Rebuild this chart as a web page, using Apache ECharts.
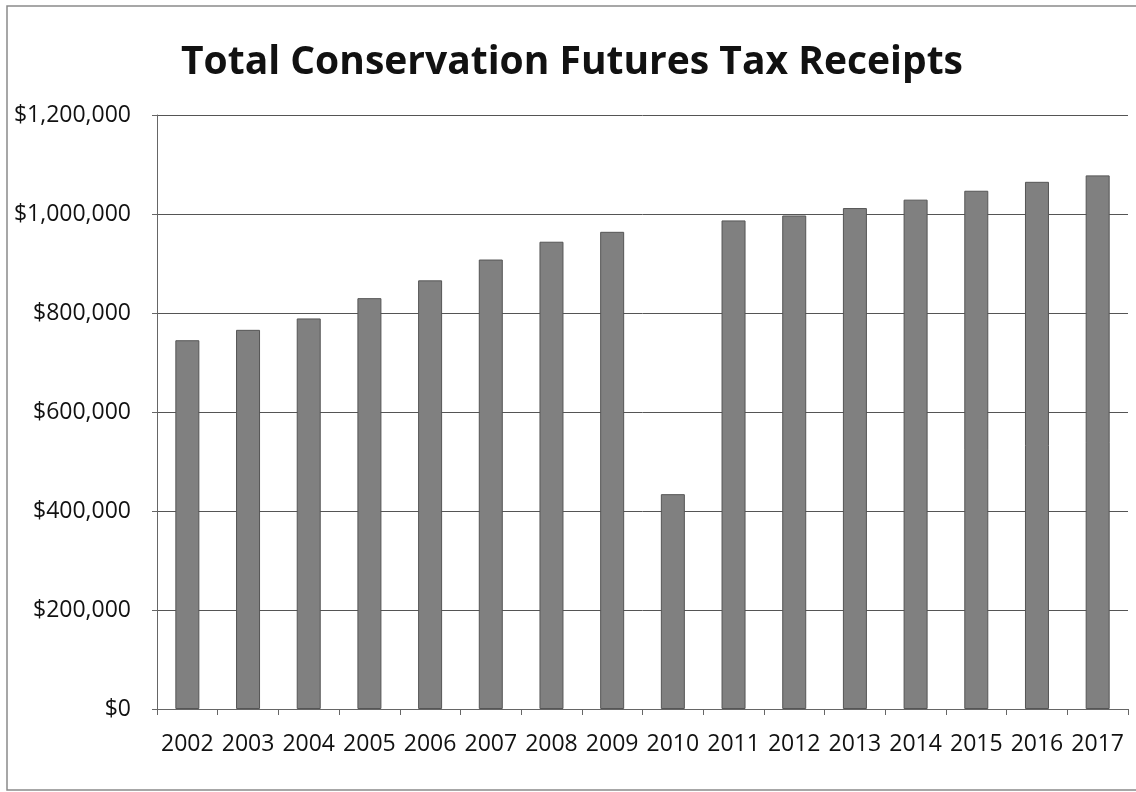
<!doctype html>
<html>
<head>
<meta charset="utf-8">
<title>Total Conservation Futures Tax Receipts</title>
<script src="https://cdn.jsdelivr.net/npm/echarts@6/dist/echarts.min.js"></script>
</head>
<body style="margin:0;background:#fff;">
<div id="echarts" style="width:1136px;height:792px;"></div>
<script type="text/javascript">
var years=['2002','2003','2004','2005','2006','2007','2008','2009','2010','2011','2012','2013','2014','2015','2016','2017'];
var receipts=[745000,766000,789000,830000,866000,908000,944000,964000,434000,987000,997000,1012000,1029000,1047000,1065000,1078000];
var yMin=0;
var yMax=1200000;
var yStep=200000;

var mychart=echarts.init(document.getElementById('echarts'));
mychart.setOption({
	backgroundColor:'#fff',
	animation:false,
	title:{
		text:'Total Conservation Futures Tax Receipts',
		left:176,
		top:38,
		textStyle:{
			fontFamily:'Open Sans',
			fontWeight:'bold',
			fontSize:39,
			color:'#111'
		}
	},
	graphic:[{
		type:'rect',
		shape:{x:7,y:6,width:1140,height:784},
		style:{fill:'none',stroke:'#8a8a8a',lineWidth:1.5},
		silent:true
	}],
	grid:{
		left:157,
		right:8,
		top:115,
		bottom:83
	},
	xAxis:{
		type:'category',
		data:years,
		axisLine:{lineStyle:{color:'#666',width:1}},
		axisTick:{show:true,interval:0,length:6,lineStyle:{color:'#666'}},
		axisLabel:{
			interval:0,
			margin:24,
			fontFamily:'Open Sans',
			fontSize:23,
			color:'#111'
		}
	},
	yAxis:{
		type:'value',
		min:yMin,
		max:yMax,
		interval:yStep,
		axisLine:{show:true,lineStyle:{color:'#666',width:1}},
		axisTick:{show:true,length:5,lineStyle:{color:'#666'}},
		splitLine:{lineStyle:{color:'#555',width:1}},
		axisLabel:{
			margin:26,
			fontFamily:'Open Sans',
			fontSize:23,
			color:'#111',
			formatter:function(v){
				return '$'+v.toLocaleString('en-US');
			}
		}
	},
	series:[{
		name:'Receipts',
		type:'bar',
		data:receipts,
		barWidth:24,
		itemStyle:{
			color:'#808080',
			borderColor:'#555',
			borderWidth:1
		}
	}]
});
</script>
</body>
</html>
